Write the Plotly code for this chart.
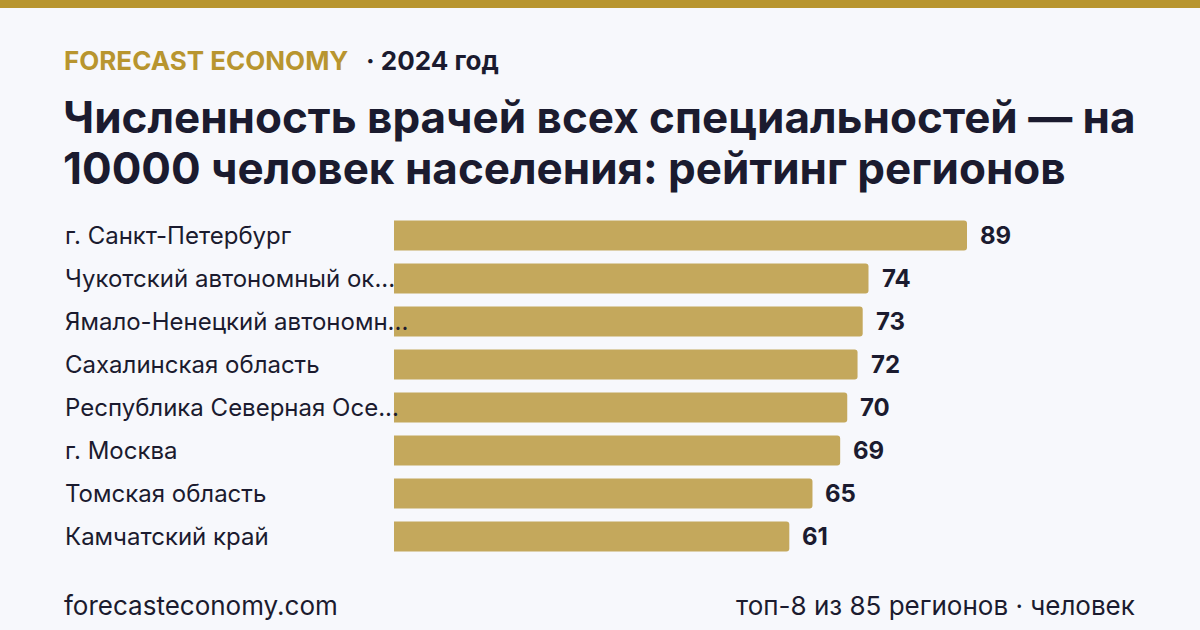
import plotly.graph_objects as go

regions = [
    "г. Санкт-Петербург",
    "Чукотский автономный ок...",
    "Ямало-Ненецкий автономн...",
    "Сахалинская область",
    "Республика Северная Осе...",
    "г. Москва",
    "Томская область",
    "Камчатский край",
]
values = [89.0, 73.7, 72.8, 72.0, 70.4, 69.3, 65.0, 61.4]

brand = "FORECAST ECONOMY"
year_text = "· 2024 год"
title_lines = ["Численность врачей всех специальностей — на",
               "10000 человек населения: рейтинг регионов"]
footer_left = "forecasteconomy.com"
footer_right = "топ-8 из 85 регионов · человек"

W, H = 1200, 630
BG = "#f7f8fc"
GOLD = "#b8952f"
BAR = "#c4a85c"
DARK = "#1b1b2f"
FONT = "Inter"


def px(x):
    return x / W


def py(y):
    return 1 - y / H


fig = go.Figure()
fig.add_trace(go.Bar(
    x=values, y=regions, orientation="h",
    marker=dict(color=BAR, cornerradius=3, line=dict(width=0)),
    hoverinfo="skip",
))

annotations = []
for r, v in zip(regions, values):
    annotations.append(dict(x=px(63), xref="paper", y=r, yref="y", text=r,
                            xanchor="left", yanchor="middle", showarrow=False,
                            font=dict(family=FONT, size=24, color=DARK)))
    annotations.append(dict(x=v, xref="x", y=r, yref="y", text=f"<b>{v:.0f}</b>",
                            xanchor="left", yanchor="middle", showarrow=False,
                            xshift=11,
                            font=dict(family=FONT, size=24, color=DARK)))

annotations += [
    dict(x=px(62), y=py(61), xref="paper", yref="paper", text=f"<b>{brand}</b>",
         xanchor="left", yanchor="middle", showarrow=False,
         font=dict(family=FONT, size=26, color=GOLD)),
    dict(x=px(364), y=py(61), xref="paper", yref="paper", text=f"<b>{year_text}</b>",
         xanchor="left", yanchor="middle", showarrow=False,
         font=dict(family=FONT, size=26, color=DARK)),
    dict(x=px(61), y=py(117), xref="paper", yref="paper", text=f"<b>{title_lines[0]}</b>",
         xanchor="left", yanchor="middle", showarrow=False,
         font=dict(family=FONT, size=44, color=DARK)),
    dict(x=px(61), y=py(168), xref="paper", yref="paper", text=f"<b>{title_lines[1]}</b>",
         xanchor="left", yanchor="middle", showarrow=False,
         font=dict(family=FONT, size=44, color=DARK)),
    dict(x=px(62), y=py(605), xref="paper", yref="paper", text=footer_left,
         xanchor="left", yanchor="middle", showarrow=False,
         font=dict(family=FONT, size=26, color=DARK)),
    dict(x=px(1137), y=py(605), xref="paper", yref="paper", text=footer_right,
         xanchor="right", yanchor="middle", showarrow=False,
         font=dict(family=FONT, size=26, color=DARK)),
]

fig.update_layout(
    width=W, height=H,
    paper_bgcolor=BG, plot_bgcolor=BG,
    margin=dict(l=0, r=0, t=0, b=0),
    showlegend=False,
    bargap=0.3,
    xaxis=dict(domain=[px(394), px(1136)], range=[0, 89 * 742 / 573],
               visible=False, fixedrange=True),
    yaxis=dict(domain=[py(558), py(214)], autorange="reversed",
               showticklabels=False, showgrid=False, zeroline=False,
               fixedrange=True),
    shapes=[dict(type="rect", xref="paper", yref="paper", x0=0, x1=1,
                 y0=py(8), y1=1, fillcolor=GOLD, line=dict(width=0))],
    annotations=annotations,
)

fig.write_html("out.html", config={"displayModeBar": False})
